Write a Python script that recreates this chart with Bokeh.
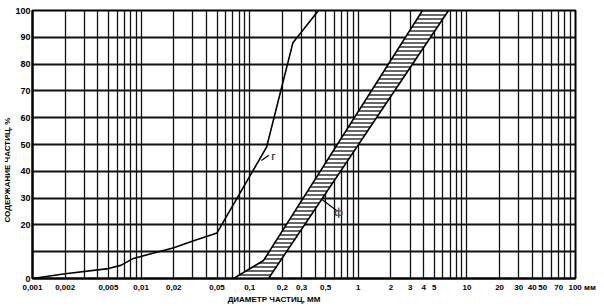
from bokeh.plotting import figure
from bokeh.models import FixedTicker, Label
from bokeh.embed import file_html
from bokeh.resources import INLINE

# ---- data ----
# curve "г": particle diameter (mm) vs cumulative content (%)
curve_d = [0.001, 0.002, 0.005, 0.0065, 0.0085, 0.02, 0.03, 0.05, 0.143, 0.25, 0.43]
curve_p = [0, 1.8, 3.7, 4.9, 7.5, 11.5, 14, 17, 49, 88, 100]

# hatched band "ф": fine (left) boundary and coarse (right) boundary
band_left_d = [0.071, 0.134, 3.9]
band_left_p = [0, 6.7, 100]
band_right_d = [0.149, 6.77]
band_right_p = [0, 100]

# axis ticks and labels
NB = "\u00a0"
x_ticks = [0.001, 0.002, 0.005, 0.01, 0.02, 0.05, 0.1, 0.2, 0.3, 0.5, 1, 2, 3, 4, 5,
           10, 20, 30, 40, 50, 70, 100]
x_labels = ["0,001", "0,002", "0,005", "0,01", "0,02", "0,05", "0,1", "0,2", "0,3", "0,5",
            "1", "2", "3", "4", "5", "10", "20", "30", "40", "50", "70",
            NB * 6 + "100 мм"]
y_ticks = [0, 20, 30, 40, 50, 60, 70, 80, 90, 100]
y_grid = [0, 10, 20, 30, 40, 50, 60, 70, 80, 90, 100]

x_title = "ДИАМЕТР ЧАСТИЦ, ММ"
y_title = "СОДЕРЖАНИЕ ЧАСТИЦ, %"
curve_name = "г"
band_name = "ф"

# annotation anchors (data units)
curve_label_pos = (0.158, 45.5)
curve_leader_d = [0.128, 0.150]
curve_leader_p = [44.0, 46.0]
band_label_pos = (0.66, 24.6)
band_leader_d = [0.466, 0.64]
band_leader_p = [29.4, 25.2]

FONT = "Liberation Sans"

p = figure(width=604, height=306, x_axis_type="log",
           x_range=(0.001, 100), y_range=(0, 100),
           output_backend="svg", toolbar_location=None,
           min_border_left=32, min_border_right=29,
           min_border_top=10, min_border_bottom=28)
p.background_fill_color = "white"
p.border_fill_color = "white"
p.outline_line_color = "black"
p.outline_line_width = 2

# grid
grid_vals = [m * 10.0 ** k for k in range(-3, 2) for m in range(1, 10)] + [100]
p.xgrid.ticker = FixedTicker(ticks=grid_vals)
p.xgrid.grid_line_color = "#111111"
p.xgrid.grid_line_width = 1.3
p.ygrid.ticker = FixedTicker(ticks=y_grid)
p.ygrid.grid_line_color = "#111111"
p.ygrid.grid_line_width = 1.8

# axes
p.xaxis.ticker = FixedTicker(ticks=x_ticks)
p.xaxis.major_label_overrides = {t: l for t, l in zip(x_ticks, x_labels)}
p.yaxis.ticker = FixedTicker(ticks=y_ticks)
for ax in (p.xaxis, p.yaxis):
    ax.axis_line_color = "black"
    ax.axis_line_width = 2
    ax.major_tick_line_color = None
    ax.minor_tick_line_color = None
    ax.major_tick_out = 0
    ax.major_tick_in = 0
    ax.minor_tick_out = 0
    ax.minor_tick_in = 0
    ax.major_label_text_font = FONT
    ax.major_label_text_font_style = "bold"
    ax.major_label_text_color = "black"
    ax.axis_label_text_font = FONT
    ax.axis_label_text_font_style = "bold"
    ax.axis_label_text_font_size = "8px"
    ax.axis_label_text_color = "black"
    ax.axis_label_standoff = 0
p.xaxis.major_label_text_font_size = "8px"
p.yaxis.major_label_text_font_size = "9px"
p.xaxis.major_label_standoff = 4
p.yaxis.major_label_standoff = 2
# trailing no-break spaces shift the centred titles to where the drawing has them
p.xaxis.axis_label = x_title + NB * 27
p.yaxis.axis_label = y_title + NB * 23

# band
poly_d = band_left_d + band_right_d[::-1]
poly_p = band_left_p + band_right_p[::-1]
p.patch(poly_d, poly_p, fill_color="white", line_color="black", line_width=1.6,
        hatch_pattern="horizontal_line", hatch_color="black", hatch_scale=4,
        hatch_weight=1.2)

# curve
p.line(curve_d, curve_p, line_color="black", line_width=1.6)

# leaders and labels
p.line(curve_leader_d, curve_leader_p, line_color="black", line_width=1.2)
p.line(band_leader_d, band_leader_p, line_color="black", line_width=1.2)
p.add_layout(Label(x=curve_label_pos[0], y=curve_label_pos[1], text=curve_name,
                   text_font=FONT, text_font_style="bold", text_font_size="10px",
                   text_align="left", text_baseline="middle"))
p.add_layout(Label(x=band_label_pos[0], y=band_label_pos[1], text=band_name,
                   text_font=FONT, text_font_style="bold", text_font_size="10px",
                   text_align="center", text_baseline="middle"))

open("out.html", "w").write(file_html(p, INLINE))
